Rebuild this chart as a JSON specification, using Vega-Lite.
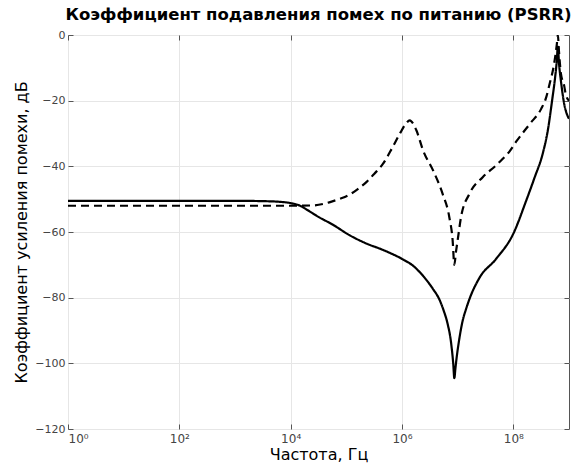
{
  "$schema": "https://vega.github.io/schema/vega-lite/v6.json",
  "autosize": {"type": "none"},
  "padding": {"left": 68, "top": 35, "right": 3, "bottom": 42},
  "width": 501,
  "height": 394,
  "title": {"text": "Коэффициент подавления помех по питанию (PSRR)", "font": "DejaVu Sans", "fontSize": 16.5, "fontWeight": "bold", "color": "#000", "anchor": "middle", "offset": 6},
  "config": {
    "view": {"stroke": "#555", "strokeWidth": 1},
    "axis": {"labelFont": "DejaVu Sans", "titleFont": "DejaVu Sans", "labelColor": "#444", "titleColor": "#000", "labelFontSize": 11, "titleFontSize": 16, "titleFontWeight": "normal", "gridColor": "#e6e6e6", "gridWidth": 1, "domain": false, "tickColor": "#555", "tickSize": -5}
  },
  "data": {"values": [
    {"f": 1, "db": -50.5, "s": "solid"},
    {"f": 10, "db": -50.5, "s": "solid"},
    {"f": 100, "db": -50.5, "s": "solid"},
    {"f": 1000, "db": -50.5, "s": "solid"},
    {"f": 3162, "db": -50.6, "s": "solid"},
    {"f": 6310, "db": -50.8, "s": "solid"},
    {"f": 10000, "db": -51.2, "s": "solid"},
    {"f": 14791, "db": -52.0, "s": "solid"},
    {"f": 19953, "db": -53.3, "s": "solid"},
    {"f": 31623, "db": -55.4, "s": "solid"},
    {"f": 57544, "db": -57.8, "s": "solid"},
    {"f": 114815, "db": -61.0, "s": "solid"},
    {"f": 229087, "db": -63.5, "s": "solid"},
    {"f": 446684, "db": -65.4, "s": "solid"},
    {"f": 1000000, "db": -68.2, "s": "solid"},
    {"f": 1584893, "db": -70.3, "s": "solid"},
    {"f": 2511886, "db": -73.8, "s": "solid"},
    {"f": 3548134, "db": -77.2, "s": "solid"},
    {"f": 4677351, "db": -80.5, "s": "solid"},
    {"f": 5623413, "db": -84, "s": "solid"},
    {"f": 6606934, "db": -88, "s": "solid"},
    {"f": 7585776, "db": -93.5, "s": "solid"},
    {"f": 8317638, "db": -100, "s": "solid"},
    {"f": 8709636, "db": -104.5, "s": "solid"},
    {"f": 9120108, "db": -101.5, "s": "solid"},
    {"f": 9549926, "db": -98.5, "s": "solid"},
    {"f": 10715193, "db": -92.5, "s": "solid"},
    {"f": 12302688, "db": -87, "s": "solid"},
    {"f": 14125375, "db": -83.5, "s": "solid"},
    {"f": 16218101, "db": -80.5, "s": "solid"},
    {"f": 24547089, "db": -74, "s": "solid"},
    {"f": 48977882, "db": -68.2, "s": "solid"},
    {"f": 100000000, "db": -60.5, "s": "solid"},
    {"f": 169824365, "db": -50.5, "s": "solid"},
    {"f": 239883292, "db": -43.5, "s": "solid"},
    {"f": 338844156, "db": -36, "s": "solid"},
    {"f": 416869383, "db": -29, "s": "solid"},
    {"f": 501187234, "db": -19.5, "s": "solid"},
    {"f": 562341325, "db": -13, "s": "solid"},
    {"f": 602559586, "db": -8, "s": "solid"},
    {"f": 630957344, "db": -3.5, "s": "solid"},
    {"f": 660693448, "db": -8.5, "s": "solid"},
    {"f": 716143410, "db": -14, "s": "solid"},
    {"f": 820351544, "db": -21, "s": "solid"},
    {"f": 912010839, "db": -24, "s": "solid"},
    {"f": 1000000000, "db": -25.5, "s": "solid"},
    {"f": 1, "db": -52, "s": "dashed"},
    {"f": 10, "db": -52, "s": "dashed"},
    {"f": 100, "db": -52, "s": "dashed"},
    {"f": 1000, "db": -52, "s": "dashed"},
    {"f": 10000, "db": -52, "s": "dashed"},
    {"f": 25119, "db": -51.9, "s": "dashed"},
    {"f": 39811, "db": -51.4, "s": "dashed"},
    {"f": 57544, "db": -50.6, "s": "dashed"},
    {"f": 79433, "db": -49.8, "s": "dashed"},
    {"f": 114815, "db": -48.6, "s": "dashed"},
    {"f": 158489, "db": -47.0, "s": "dashed"},
    {"f": 229087, "db": -44.8, "s": "dashed"},
    {"f": 316228, "db": -42.3, "s": "dashed"},
    {"f": 457088, "db": -39.2, "s": "dashed"},
    {"f": 676083, "db": -34.2, "s": "dashed"},
    {"f": 912011, "db": -30.1, "s": "dashed"},
    {"f": 1174898, "db": -27, "s": "dashed"},
    {"f": 1380384, "db": -26, "s": "dashed"},
    {"f": 1584893, "db": -27, "s": "dashed"},
    {"f": 1819701, "db": -29.1, "s": "dashed"},
    {"f": 2398833, "db": -35.2, "s": "dashed"},
    {"f": 3630781, "db": -41.3, "s": "dashed"},
    {"f": 5370318, "db": -48.4, "s": "dashed"},
    {"f": 7079458, "db": -55.5, "s": "dashed"},
    {"f": 8128305, "db": -62.6, "s": "dashed"},
    {"f": 8709636, "db": -70, "s": "dashed"},
    {"f": 9332543, "db": -66, "s": "dashed"},
    {"f": 10000000, "db": -62.5, "s": "dashed"},
    {"f": 11481536, "db": -55.5, "s": "dashed"},
    {"f": 16218101, "db": -48.4, "s": "dashed"},
    {"f": 28183829, "db": -43.3, "s": "dashed"},
    {"f": 48977882, "db": -39.7, "s": "dashed"},
    {"f": 64565423, "db": -37.7, "s": "dashed"},
    {"f": 85113804, "db": -35.5, "s": "dashed"},
    {"f": 112201845, "db": -32.5, "s": "dashed"},
    {"f": 199526231, "db": -27, "s": "dashed"},
    {"f": 316227766, "db": -22.5, "s": "dashed"},
    {"f": 389045145, "db": -19, "s": "dashed"},
    {"f": 446683592, "db": -15, "s": "dashed"},
    {"f": 537031796, "db": -9, "s": "dashed"},
    {"f": 602559586, "db": -3, "s": "dashed"},
    {"f": 630957344, "db": 0, "s": "dashed"},
    {"f": 660693448, "db": -5, "s": "dashed"},
    {"f": 716143410, "db": -11.8, "s": "dashed"},
    {"f": 820351544, "db": -15.5, "s": "dashed"},
    {"f": 870963590, "db": -17.9, "s": "dashed"},
    {"f": 1000000000, "db": -20, "s": "dashed"}
  ]},
  "layer": [
    {
      "mark": {"type": "line", "color": "#000", "strokeWidth": 2.2, "clip": true, "interpolate": "monotone"},
      "encoding": {
        "x": {"field": "f", "type": "quantitative", "scale": {"type": "log", "domain": [1, 1000000000], "nice": false},
              "axis": {"orient": "bottom", "values": [1, 100, 10000, 1000000, 100000000], "labelExpr": "datum.value == 1 ? '10⁰' : datum.value == 100 ? '10²' : datum.value == 10000 ? '10⁴' : datum.value == 1000000 ? '10⁶' : '10⁸'", "labelFontSize": 12, "title": "Частота, Гц", "labelPadding": 9, "titlePadding": 2}},
        "y": {"field": "db", "type": "quantitative", "scale": {"domain": [-120, 0], "nice": false},
              "axis": {"orient": "left", "values": [-120, -100, -80, -60, -40, -20, 0], "title": "Коэффициент усиления помехи, дБ", "labelPadding": 8, "titlePadding": 5}},
        "strokeDash": {"field": "s", "type": "nominal", "scale": {"domain": ["solid", "dashed"], "range": [[1, 0], [8, 5]]}, "legend": null}
      }
    },
    {
      "mark": {"type": "line", "opacity": 0},
      "encoding": {
        "x": {"field": "f", "type": "quantitative", "scale": {"type": "log", "domain": [1, 1000000000], "nice": false},
              "axis": {"orient": "top", "values": [1, 100, 10000, 1000000, 100000000], "labels": false, "grid": false, "title": null}},
        "y": {"field": "db", "type": "quantitative", "scale": {"domain": [-120, 0], "nice": false},
              "axis": {"orient": "right", "values": [-120, -100, -80, -60, -40, -20, 0], "labels": false, "grid": false, "title": null}}
      }
    }
  ],
  "resolve": {"axis": {"x": "independent", "y": "independent"}}
}
